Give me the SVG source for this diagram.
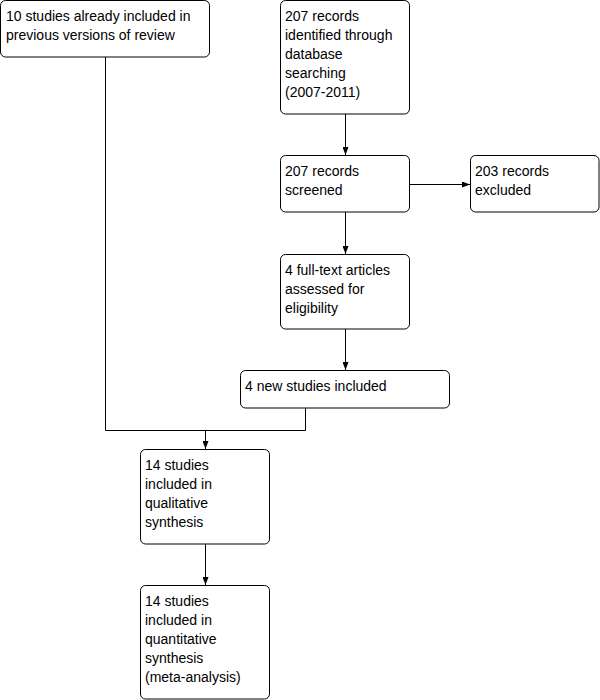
<svg xmlns="http://www.w3.org/2000/svg" width="600" height="700" viewBox="0 0 600 700">
<style>
.box{fill:#fff;stroke:#000;stroke-width:1}
.t{font-family:"Liberation Sans",Arial,sans-serif;font-size:14px;fill:#000}
.c{fill:none;stroke:#000;stroke-width:1}
</style>
<defs>
<marker id="ah" viewBox="0 0 8 6" refX="8" refY="3" markerWidth="8" markerHeight="6" markerUnits="userSpaceOnUse" orient="auto">
<path d="M0,0 L8,3 L0,6 Z" fill="#000"/>
</marker>
</defs>
<rect width="600" height="700" fill="#fff"/>
<g id="connectors">
<polyline class="c" points="105.5,57 105.5,430.5 305.5,430.5 305.5,408"/>
<line class="c" x1="205.5" y1="430.5" x2="205.5" y2="449" marker-end="url(#ah)"/>
<line class="c" x1="345.5" y1="114" x2="345.5" y2="155" marker-end="url(#ah)"/>
<line class="c" x1="409" y1="184.5" x2="470" y2="184.5" marker-end="url(#ah)"/>
<line class="c" x1="345.5" y1="212" x2="345.5" y2="254" marker-end="url(#ah)"/>
<line class="c" x1="345.5" y1="329" x2="345.5" y2="370" marker-end="url(#ah)"/>
<line class="c" x1="205.5" y1="544" x2="205.5" y2="585" marker-end="url(#ah)"/>
</g>
<g id="n1">
<rect class="box" x="0.5" y="0.5" width="209" height="56.5" rx="5"/>
<text class="t" x="6" y="21">10 studies already included in</text>
<text class="t" x="6" y="40">previous versions of review</text>
</g>
<g id="n2">
<rect class="box" x="280.5" y="0.5" width="129" height="113.5" rx="5"/>
<text class="t" x="285" y="21">207 records</text>
<text class="t" x="285" y="40">identified through</text>
<text class="t" x="285" y="59">database</text>
<text class="t" x="285" y="78">searching</text>
<text class="t" x="285" y="97">(2007-2011)</text>
</g>
<g id="n3">
<rect class="box" x="280.5" y="155.5" width="129" height="56.5" rx="5"/>
<text class="t" x="285" y="176">207 records</text>
<text class="t" x="285" y="195">screened</text>
</g>
<g id="n4">
<rect class="box" x="470.5" y="155.5" width="128.5" height="56.5" rx="5"/>
<text class="t" x="475" y="176">203 records</text>
<text class="t" x="475" y="195">excluded</text>
</g>
<g id="n5">
<rect class="box" x="280.5" y="254.5" width="129" height="74.5" rx="5"/>
<text class="t" x="285" y="275">4 full-text articles</text>
<text class="t" x="285" y="294">assessed for</text>
<text class="t" x="285" y="313">eligibility</text>
</g>
<g id="n6">
<rect class="box" x="240.5" y="370.5" width="209" height="37.5" rx="5"/>
<text class="t" x="245" y="391">4 new studies included</text>
</g>
<g id="n7">
<rect class="box" x="140.5" y="449.5" width="129" height="94.5" rx="5"/>
<text class="t" x="145" y="470">14 studies</text>
<text class="t" x="145" y="489">included in</text>
<text class="t" x="145" y="508">qualitative</text>
<text class="t" x="145" y="527">synthesis</text>
</g>
<g id="n8">
<rect class="box" x="140.5" y="585.5" width="129" height="113.5" rx="5"/>
<text class="t" x="145" y="606">14 studies</text>
<text class="t" x="145" y="625">included in</text>
<text class="t" x="145" y="644">quantitative</text>
<text class="t" x="145" y="663">synthesis</text>
<text class="t" x="145" y="682">(meta-analysis)</text>
</g>
</svg>
